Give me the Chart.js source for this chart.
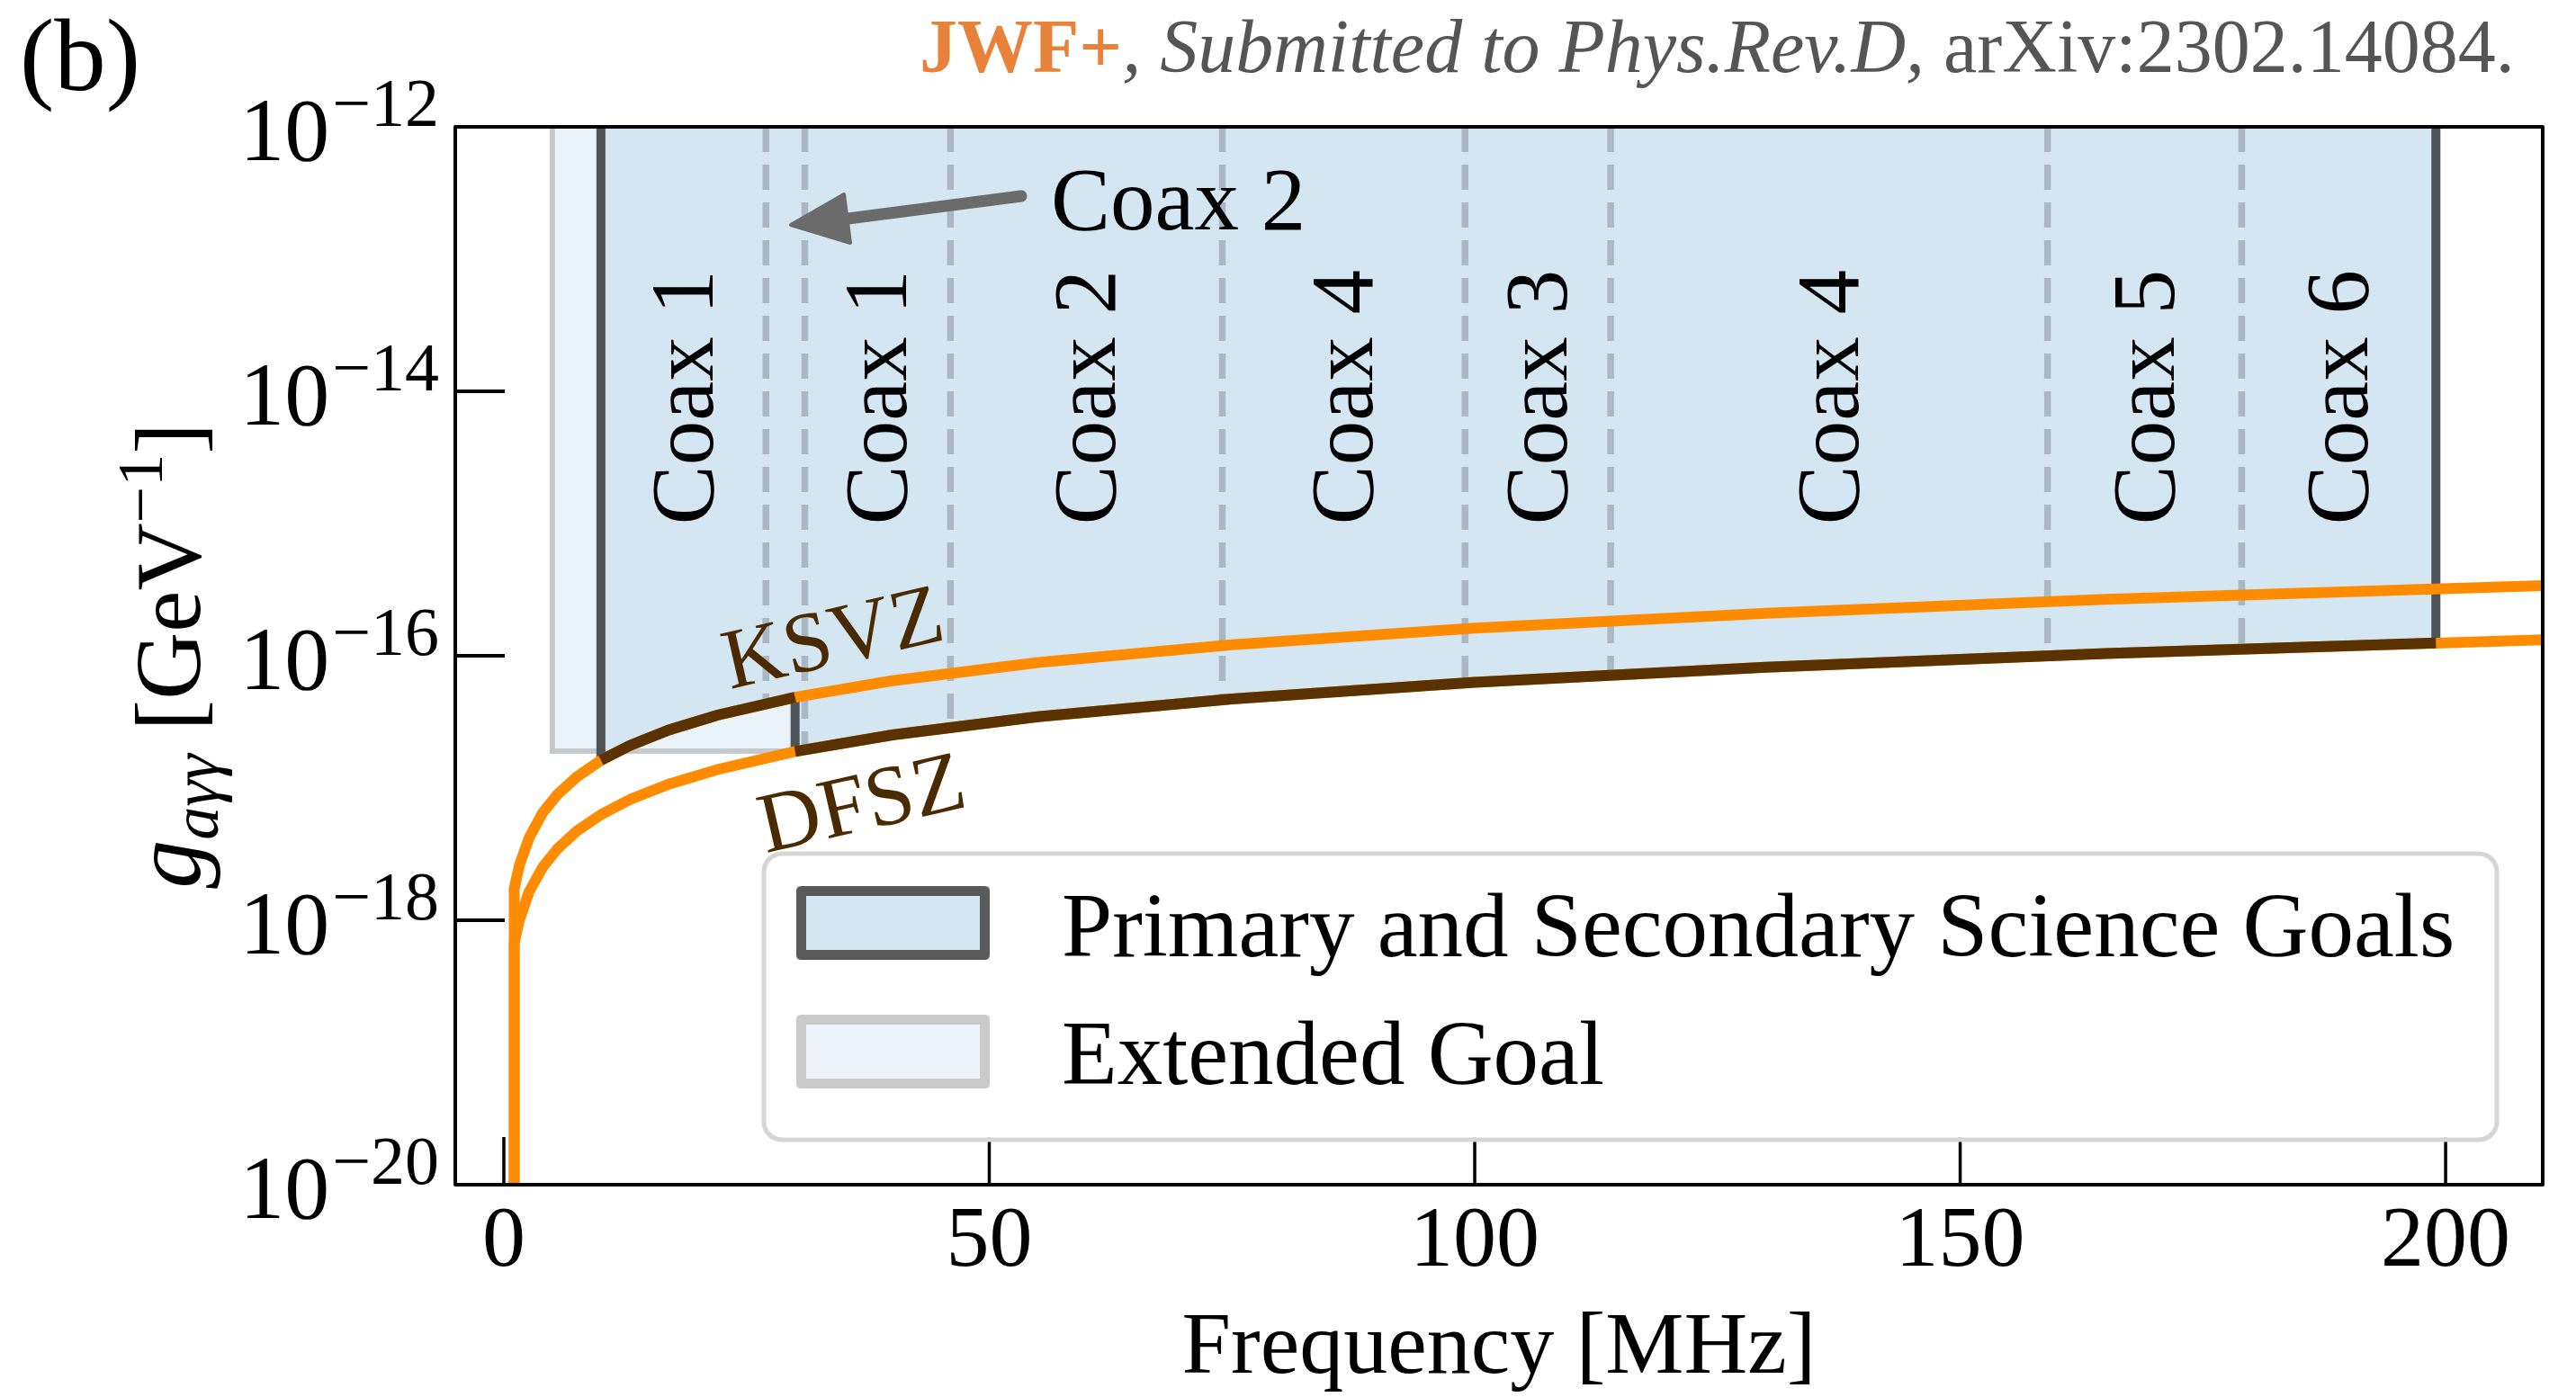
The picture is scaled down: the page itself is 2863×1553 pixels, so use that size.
<!DOCTYPE html>
<html>
<head>
<meta charset="utf-8">
<script src="https://cdn.jsdelivr.net/npm/chart.js@4.4.1/dist/chart.umd.min.js"></script>
<style>
body{margin:0;background:#fff}
canvas{display:block}
</style>
</head>
<body>
<canvas id="c" width="2863" height="1553"></canvas>
<script>
// values (frequency in MHz, coupling in GeV^-1)
var curveFreq = [1.07, 1.07, 1.6, 2.6, 4, 5.5, 7.5, 10, 13, 17, 22, 30, 40, 55, 75, 100, 130, 165, 210];
var ksvzG = [1e-22, 1.73e-18, 2.6e-18, 4.2e-18, 6.5e-18, 8.9e-18, 1.21e-17, 1.62e-17, 2.1e-17, 2.75e-17, 3.56e-17, 4.85e-17, 6.47e-17, 8.9e-17, 1.21e-16, 1.62e-16, 2.1e-16, 2.67e-16, 3.4e-16];
var dfszG = [1e-22, 6.7e-19, 1.0e-18, 1.64e-18, 2.52e-18, 3.46e-18, 4.72e-18, 6.29e-18, 8.2e-18, 1.07e-17, 1.38e-17, 1.89e-17, 2.52e-17, 3.46e-17, 4.72e-17, 6.29e-17, 8.2e-17, 1.04e-16, 1.32e-16];

// primary/secondary goal region outline
var goalFreq = [10, 10, 13, 17, 22, 30, 30, 40, 55, 75, 100, 130, 165, 199, 199];
var goalG = [1e-11, 1.62e-17, 2.1e-17, 2.75e-17, 3.56e-17, 4.85e-17, 1.89e-17, 2.52e-17, 3.46e-17, 4.72e-17, 6.29e-17, 8.2e-17, 1.04e-16, 1.25e-16, 1e-11];
// extended goal box
var extFreq = [5, 5, 30, 30];
var extG = [1e-11, 1.9e-17, 1.9e-17, 1e-11];

// boundaries between coax runs (dashed) and where they stop on the curve
var coaxEdges = [27, 31, 46, 74, 99, 114, 159, 179];
var coaxEdgeLow = [4.37e-17, 1.95e-17, 2.9e-17, 4.65e-17, 6.23e-17, 7.17e-17, 1.0e-16, 1.126e-16];
var coaxNames = ['Coax 1', 'Coax 1', 'Coax 2', 'Coax 4', 'Coax 3', 'Coax 4', 'Coax 5', 'Coax 6'];
var coaxMid = [18.5, 38.5, 60, 86.5, 106.5, 136.5, 169, 189];
var coaxLabelG = 9e-15;

var xTicks = [0, 50, 100, 150, 200];
var yTickExp = [-12, -14, -16, -18, -20];

var orange = '#ff8c00';
var brown = '#5a3200';
var serif = '"Liberation Serif", "DejaVu Serif", serif';

function pts(xs, ys, from, to) {
    var out = [];
    for (var i = 0; i < xs.length; i++) {
        if (from !== undefined && (xs[i] < from || xs[i] > to)) continue;
        out.push({x: xs[i], y: ys[i]});
    }
    return out;
}

var datasets = [];
// brown KSVZ piece 10-30 and DFSZ piece 30-199 on top of everything
datasets.push({data: pts(curveFreq.slice(2), ksvzG.slice(2), 10, 30), borderColor: brown, borderWidth: 12, order: 0});
datasets.push({data: pts(goalFreq.slice(6, 14), goalG.slice(6, 14)), borderColor: brown, borderWidth: 12, order: 0});
// orange benchmark lines
datasets.push({data: pts(curveFreq, ksvzG), borderColor: orange, borderWidth: 12, order: 1});
datasets.push({data: pts(curveFreq, dfszG), borderColor: orange, borderWidth: 12, order: 1});
// dashed coax boundaries
for (var i = 0; i < coaxEdges.length; i++) {
    datasets.push({data: [{x: coaxEdges[i], y: 1e-12}, {x: coaxEdges[i], y: coaxEdgeLow[i]}],
        borderColor: '#a9b8c2', borderWidth: 7.5, borderDash: [28, 14], order: 2});
}
// goal region
datasets.push({data: pts(goalFreq, goalG), borderColor: '#4d5357', borderWidth: 10,
    backgroundColor: '#d4e6f1', fill: 'shape', order: 3});
datasets.push({data: pts(extFreq, extG), borderColor: '#c6c9cc', borderWidth: 6,
    backgroundColor: '#eaf2fa', fill: 'shape', order: 4});

function drawRuns(ctx, x, y, runs, align) {
    // runs: [text, font, dy, color]
    var w = 0;
    runs.forEach(function (r) { ctx.font = r[1]; r.w = ctx.measureText(r[0]).width; w += r.w; });
    var cx = align === 'center' ? x - w / 2 : (align === 'right' ? x - w : x);
    runs.forEach(function (r) {
        ctx.font = r[1];
        ctx.fillStyle = r[3] || '#000';
        ctx.textAlign = 'left';
        ctx.fillText(r[0], cx, y + (r[2] || 0));
        cx += r.w;
    });
}

var deco = {
    id: 'deco',
    afterDatasetsDraw: function (chart) {
        var ctx = chart.ctx, a = chart.chartArea, xs = chart.scales.x, ys = chart.scales.y;
        ctx.save();
        ctx.textBaseline = 'alphabetic';

        // vertical coax labels
        ctx.font = '99px ' + serif;
        ctx.fillStyle = '#000';
        coaxNames.forEach(function (name, i) {
            var px = xs.getPixelForValue(coaxMid[i]);
            var py = ys.getPixelForValue(coaxLabelG);
            var m = ctx.measureText(name);
            ctx.save();
            ctx.translate(px, py);
            ctx.rotate(-Math.PI / 2);
            ctx.textAlign = 'center';
            ctx.fillText(name, 0, (m.actualBoundingBoxAscent - m.actualBoundingBoxDescent) / 2);
            ctx.restore();
        });

        // Coax 2 annotation with arrow
        ctx.textAlign = 'left';
        ctx.fillText('Coax 2', 1168, 255);
        ctx.strokeStyle = '#6b6b6b';
        ctx.fillStyle = '#6b6b6b';
        ctx.lineWidth = 13;
        ctx.lineCap = 'round';
        ctx.beginPath();
        ctx.moveTo(1135, 218);
        ctx.lineTo(935, 244);
        ctx.stroke();
        ctx.lineJoin = 'round';
        ctx.lineWidth = 4;
        ctx.beginPath();
        ctx.moveTo(879, 250);
        ctx.lineTo(938, 216);
        ctx.lineTo(945, 270);
        ctx.closePath();
        ctx.fill();
        ctx.stroke();

        // frame
        ctx.strokeStyle = '#000';
        ctx.lineWidth = 4;
        ctx.lineCap = 'butt';
        ctx.strokeRect(a.left, a.top, a.right - a.left, a.bottom - a.top);

        // inward ticks
        ctx.fillStyle = '#000';
        ctx.lineWidth = 3.5;
        xTicks.forEach(function (v) {
            var px = xs.getPixelForValue(v);
            ctx.beginPath();
            ctx.moveTo(px, a.bottom);
            ctx.lineTo(px, a.bottom - 53);
            ctx.stroke();
            ctx.font = '96px ' + serif;
            ctx.textAlign = 'center';
            ctx.fillText(String(v), px, 1407);
        });
        ctx.lineWidth = 4;
        yTickExp.forEach(function (e) {
            var py = ys.getPixelForValue(Math.pow(10, e));
            ctx.beginPath();
            ctx.moveTo(a.left, py);
            ctx.lineTo(a.left + 55, py);
            ctx.stroke();
            ctx.textAlign = 'right';
            ctx.font = '76px ' + serif;
            var sup = '\u2212' + String(-e);
            var sw = ctx.measureText(sup).width;
            ctx.fillText(sup, 488, py - 1);
            ctx.font = '100px ' + serif;
            ctx.fillText('10', 488 - sw - 3, py + 37);
        });

        // axis titles
        ctx.font = '98px ' + serif;
        ctx.textAlign = 'center';
        ctx.fillText('Frequency [MHz]', (a.left + a.right) / 2, 1526);

        ctx.save();
        ctx.translate(222, (a.top + a.bottom) / 2);
        ctx.rotate(-Math.PI / 2);
        drawRuns(ctx, 0, 0, [
            ['g', 'italic 108px ' + serif, 0],
            ['a\u03b3\u03b3', 'italic 74px ' + serif, 20],
            [' [GeV', '104px ' + serif, 0],
            ['\u22121', '72px ' + serif, -42],
            [']', '104px ' + serif, 0]
        ], 'center');
        ctx.restore();

        // legend
        ctx.beginPath();
        ctx.roundRect(849, 949, 2775 - 849, 1267 - 949, 20);
        ctx.fillStyle = 'rgba(255,255,255,0.8)';
        ctx.fill();
        ctx.strokeStyle = '#d5d5d5';
        ctx.lineWidth = 5;
        ctx.stroke();
        [[985, '#d4e6f1', '#5a5a5a', 'Primary and Secondary Science Goals', 1063],
         [1128, '#ecf3fa', '#cacaca', 'Extended Goal', 1205]].forEach(function (l) {
            ctx.fillStyle = l[1];
            ctx.fillRect(885, l[0], 215, 82);
            ctx.strokeStyle = l[2];
            ctx.lineWidth = 11;
            ctx.strokeRect(890.5, l[0] + 5.5, 204, 71);
            ctx.fillStyle = '#000';
            ctx.font = '101px ' + serif;
            ctx.textAlign = 'left';
            ctx.fillText(l[3], 1180, l[4]);
        });

        // KSVZ / DFSZ labels
        ctx.fillStyle = '#4a2a00';
        ctx.font = '95px ' + serif;
        [['KSVZ', 925, 706], ['DFSZ', 957, 890]].forEach(function (t) {
            ctx.save();
            ctx.translate(t[1], t[2]);
            ctx.rotate(-13 * Math.PI / 180);
            ctx.textAlign = 'center';
            ctx.fillText(t[0], 0, 33);
            ctx.restore();
        });

        // panel tag and citation
        ctx.font = '115px ' + serif;
        ctx.fillStyle = '#000';
        ctx.textAlign = 'left';
        ctx.fillText('(b)', 22, 100);
        drawRuns(ctx, 1022, 80, [
            ['JWF+', 'bold 84px ' + serif, 0, '#e8823a'],
            [', Submitted to Phys.Rev.D,', 'italic 84px ' + serif, 0, '#555555'],
            [' arXiv:2302.14084.', '84px ' + serif, 0, '#555555']
        ], 'left');

        ctx.restore();
    }
};

new Chart(document.getElementById('c').getContext('2d'), {
    type: 'line',
    data: {datasets: datasets},
    options: {
        responsive: false,
        animation: false,
        devicePixelRatio: 1,
        layout: {padding: {left: 506, top: 141, right: 37, bottom: 236}},
        elements: {point: {radius: 0}, line: {tension: 0, fill: false, borderCapStyle: 'butt'}},
        plugins: {legend: {display: false}, tooltip: {enabled: false}},
        scales: {
            x: {type: 'linear', min: -5, max: 210, display: false},
            y: {type: 'logarithmic', min: 1e-20, max: 1e-12, display: false}
        }
    },
    plugins: [deco]
});
</script>
</body>
</html>
